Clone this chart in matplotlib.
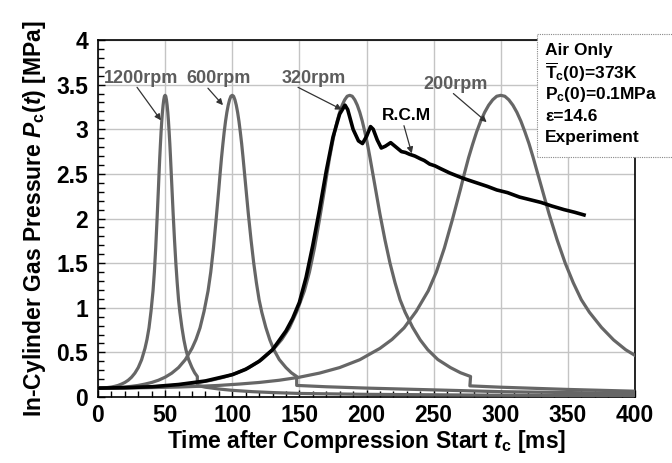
import numpy as np
import matplotlib
matplotlib.use("Agg")
import matplotlib.pyplot as plt
from matplotlib.ticker import MultipleLocator, FixedLocator

plt.rcParams['font.family'] = ['Liberation Sans', 'DejaVu Sans']
plt.rcParams['font.weight'] = 'bold'
plt.rcParams['axes.labelweight'] = 'bold'
plt.rcParams['mathtext.fontset'] = 'custom'
plt.rcParams['mathtext.rm'] = 'Liberation Sans:bold'
plt.rcParams['mathtext.it'] = 'Liberation Sans:bold:italic'
plt.rcParams['mathtext.bf'] = 'Liberation Sans:bold'

# Motored cycle: pressure vs. fraction of the compression time (TDC = 1.0)
phase = [0.0, 0.05, 0.1, 0.15, 0.2, 0.25, 0.3, 0.35, 0.4, 0.45, 0.5, 0.55,
         0.6, 0.65, 0.7, 0.73, 0.76, 0.79, 0.82, 0.84, 0.86, 0.88, 0.90, 0.91,
         0.92, 0.93, 0.94, 0.95, 0.96, 0.97, 0.98, 0.99, 1.0,
         1.01, 1.02, 1.03, 1.04, 1.05, 1.06, 1.07, 1.08, 1.09, 1.10, 1.12,
         1.14, 1.16, 1.18, 1.20, 1.22, 1.25, 1.28, 1.31, 1.35, 1.40, 1.44,
         1.48]
p_cycle = [0.100, 0.101, 0.103, 0.107, 0.112, 0.120, 0.130, 0.145, 0.163,
           0.188, 0.222, 0.268, 0.330, 0.418, 0.545, 0.645, 0.775, 0.96,
           1.19, 1.40, 1.67, 1.99, 2.33, 2.51, 2.68, 2.83, 2.97, 3.09, 3.19,
           3.27, 3.33, 3.37, 3.38,
           3.37, 3.33, 3.27, 3.19, 3.09, 2.97, 2.84, 2.69, 2.53, 2.37, 2.05,
           1.76, 1.50, 1.28, 1.09, 0.95, 0.78, 0.64, 0.53, 0.42, 0.33, 0.272,
           0.23]

# engine speeds and time of TDC [ms]
rpm_labels = ['1200rpm', '600rpm', '320rpm', '200rpm']
tdc_ms = [50, 100, 187.5, 300]

# exhaust tails after the pressure drop (time [ms], pressure [MPa])
tail_t = [[74, 80, 90, 100, 115, 130, 150, 200, 300, 400],
          [148, 170, 200, 250, 300, 350, 400],
          [277, 300, 350, 400],
          []]
tail_p = [[0.13, 0.11, 0.09, 0.075, 0.06, 0.05, 0.04, 0.03, 0.02, 0.015],
          [0.13, 0.115, 0.10, 0.08, 0.06, 0.05, 0.04],
          [0.125, 0.11, 0.085, 0.065],
          []]

# rapid compression machine measurement
rcm_t = [0, 20, 40, 60, 80, 100, 110, 120, 130, 140, 145, 150, 155, 160, 165,
         170, 175, 180, 184, 186, 190, 194, 197, 200, 203, 205, 208, 211, 214,
         218, 222, 226, 229, 232, 236, 240, 243, 247, 251, 255, 262, 272, 280,
         290, 297, 305, 314, 322, 330, 338, 347, 355, 362]
rcm_p = [0.10, 0.105, 0.115, 0.14, 0.18, 0.25, 0.31, 0.40, 0.53, 0.74, 0.88,
         1.06, 1.34, 1.70, 2.10, 2.53, 2.91, 3.17, 3.27, 3.22, 3.00, 2.87,
         2.84, 2.92, 3.03, 3.00, 2.88, 2.79, 2.81, 2.85, 2.80, 2.75, 2.74,
         2.72, 2.70, 2.67, 2.65, 2.61, 2.59, 2.56, 2.51, 2.45, 2.41, 2.36,
         2.32, 2.29, 2.24, 2.21, 2.18, 2.14, 2.10, 2.07, 2.04]

ytick_vals = [0, 0.5, 1, 1.5, 2, 2.5, 3, 3.5, 4]
ytick_labels = ['0', '0.5', '1', '1.5', '2', '2.5', '3', '3.5', '4']

gray = '#666666'

fig = plt.figure(figsize=(6.72, 4.63), dpi=100)
ax = fig.add_axes([0.1458, 0.1425, 0.7992, 0.7711])

for i, T in enumerate(tdc_ms):
    t = np.concatenate([np.array(phase) * T, tail_t[i]])
    p = np.concatenate([p_cycle, tail_p[i]])
    ax.plot(t, p, color=gray, lw=2.3, solid_joinstyle='round', zorder=3)

ax.plot(rcm_t, rcm_p, color='black', lw=2.6, solid_joinstyle='round',
        zorder=4)

ax.set_xlim(0, 400)
ax.set_ylim(0, 4)
ax.xaxis.set_major_locator(MultipleLocator(50))
ax.xaxis.set_minor_locator(MultipleLocator(10))
ax.yaxis.set_major_locator(FixedLocator(ytick_vals))
ax.set_yticklabels(ytick_labels)
ax.yaxis.set_minor_locator(MultipleLocator(0.1))
ax.tick_params(which='both', direction='in', labelsize=16.5, width=1)
ax.tick_params(which='major', length=5)
ax.tick_params(which='minor', length=4)
ax.tick_params(axis='x', pad=5)
ax.tick_params(axis='y', pad=7)
ax.grid(True, which='major', color='#c4c4c4', lw=1)
ax.set_axisbelow(True)
for s in ax.spines.values():
    s.set_linewidth(1.2)

ax.set_xlabel('Time after Compression Start $t_\\mathrm{c}$ [ms]', fontsize=16.5,
              labelpad=1)
ax.set_ylabel('In-Cylinder Gas Pressure $P_\\mathrm{c}(t)$ [MPa]', fontsize=16.5,
              labelpad=6)

# speed labels with arrows
label_xy = [(32.4, 3.57), (89.9, 3.57), (160.4, 3.57), (266.3, 3.50)]
arrow_from = [(29.1, 3.47), (81.9, 3.46), (149.0, 3.47), (264.7, 3.40)]
arrow_to = [(46.9, 3.10), (93.1, 3.27), (181.7, 3.22), (289.5, 3.08)]
arrow_kw = dict(arrowstyle='-|>', color='#333333', lw=0.9,
                mutation_scale=9, shrinkA=0, shrinkB=0)
for name, xy, a0, a1 in zip(rpm_labels, label_xy, arrow_from, arrow_to):
    ax.text(xy[0], xy[1], name, color='#5c5c5c', fontsize=13, ha='center',
            va='center', zorder=6)
    ax.annotate('', xy=a1, xytext=a0, arrowprops=arrow_kw, zorder=6)

ax.text(230, 3.15, 'R.C.M', color='black', fontsize=12.5, ha='center',
        va='center', zorder=6)
ax.annotate('', xy=(233.7, 2.73), xytext=(227.9, 3.04), arrowprops=arrow_kw,
            zorder=6)

# condition box
box_lines = ['Air Only', '$\\overline{\\mathrm{T}}_\\mathrm{c}$(0)=373K',
             '$\\mathrm{P}_\\mathrm{c}$(0)=0.1MPa', '\u03b5=14.6', 'Experiment']
fig.patches.append(plt.Rectangle((537 / 672, 1 - 157 / 463), 0.25, 123 / 463,
                                 transform=fig.transFigure, fill=True,
                                 facecolor='white', edgecolor='#888888',
                                 lw=0.8, ls=(0, (1, 1)), zorder=10))
for k, line in enumerate(box_lines):
    fig.text(545 / 672, 1 - (51 + 21.7 * k) / 463, line, fontsize=12.5,
             ha='left', va='center', zorder=11)

fig.savefig('out.png', dpi=100)
